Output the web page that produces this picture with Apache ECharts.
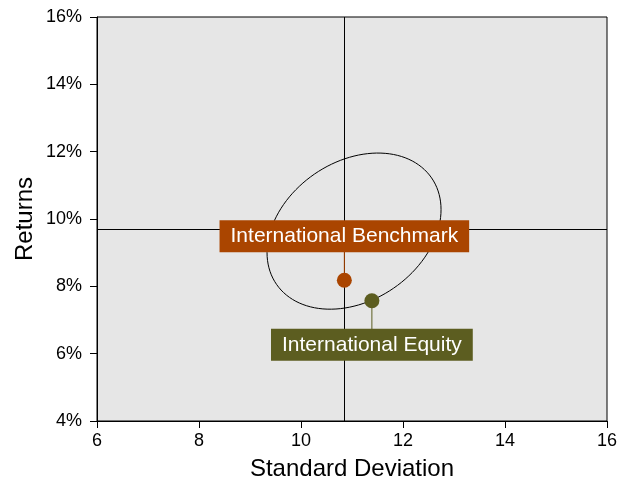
<!DOCTYPE html>
<html>
<head>
<meta charset="utf-8">
<script src="https://cdn.jsdelivr.net/npm/echarts@6/dist/echarts.min.js"></script>
<style>
  html, body { margin: 0; padding: 0; background: #fff; }
  #main { width: 630px; height: 481px; }
</style>
</head>
<body>
<div id="main"></div>
<script>
// data
var pointNames = ['International Benchmark', 'International Equity'];
var stdDev = [10.85, 11.39];
var returns = [8.18, 7.57];
var labelSide = [-1, 1];           // label above (-1) or below (1) the point
var pointColors = ['#aa4500', '#5c5d20'];
// crosshair: [x, y]
var crossLines = [10.85, 9.70];
// ellipse: centre x, centre y, half-width x, half-height y, covariance term
var ellipse = [11.04, 9.64, 1.706, 2.319, 1.09];

var xTicks = [6, 8, 10, 12, 14, 16];
var yTicks = [4, 6, 8, 10, 12, 14, 16];

var chart = echarts.init(document.getElementById('main'));
var font = 'Liberation Sans, Arial, sans-serif';

var pointData = pointNames.map(function (n, i) {
  return [stdDev[i], returns[i], i];
});

chart.setOption({
  backgroundColor: '#fff',
  animation: false,
  grid: {
    left: 97, right: 23, top: 17, bottom: 60,
    outerBoundsMode: 'none',
    show: true, backgroundColor: '#e6e6e6', borderColor: '#000', borderWidth: 1
  },
  xAxis: {
    type: 'value', min: xTicks[0], max: xTicks[xTicks.length - 1], interval: 2,
    name: 'Standard Deviation', nameLocation: 'middle', nameGap: 36, nameMoveOverlap: false,
    nameTextStyle: { fontFamily: font, fontSize: 24, color: '#000' },
    axisLine: { lineStyle: { color: '#000', width: 1 } },
    axisTick: { show: true, length: 7, lineStyle: { color: '#000' } },
    axisLabel: { fontFamily: font, fontSize: 18, color: '#000', margin: 11 },
    splitLine: { show: false }
  },
  yAxis: {
    type: 'value', min: yTicks[0], max: yTicks[yTicks.length - 1], interval: 2,
    name: 'Returns', nameLocation: 'middle', nameGap: 60, nameMoveOverlap: false,
    nameTextStyle: { fontFamily: font, fontSize: 24, color: '#000' },
    axisLine: { show: true, lineStyle: { color: '#000', width: 1 } },
    axisTick: { show: true, length: 7, lineStyle: { color: '#000' } },
    axisLabel: { fontFamily: font, fontSize: 18, color: '#000', margin: 15, formatter: '{value}%' },
    splitLine: { show: false }
  },
  series: [
    {
      // crosshair lines
      type: 'line', data: [], silent: true,
      markLine: {
        silent: true, symbol: 'none', label: { show: false },
        lineStyle: { color: '#000', width: 1, type: 'solid' },
        data: [{ xAxis: crossLines[0] }, { yAxis: crossLines[1] }]
      }
    },
    {
      // ellipse drawn through the axes' scales
      type: 'custom', silent: true, data: [ellipse],
      renderItem: function (params, api) {
        var cx = api.value(0), cy = api.value(1), sx = api.value(2), sy = api.value(3), c = api.value(4);
        var ux = sx, uy = c / sx, vy = Math.sqrt(sy * sy - uy * uy);
        var pts = [];
        for (var k = 0; k <= 120; k++) {
          var t = k / 120 * Math.PI * 2;
          pts.push(api.coord([cx + ux * Math.cos(t), cy + uy * Math.cos(t) + vy * Math.sin(t)]));
        }
        return { type: 'polyline', shape: { points: pts }, style: { stroke: '#000', lineWidth: 1, fill: null } };
      }
    },
    {
      // points with their boxed labels and leader lines
      type: 'custom', data: pointData, z: 5,
      renderItem: function (params, api) {
        var i = api.value(2);
        var p = api.coord([api.value(0), api.value(1)]);
        var side = labelSide[i];
        var ly = p[1] + side * 44;
        var col = pointColors[i];
        return {
          type: 'group',
          children: [
            { type: 'line', shape: { x1: p[0], y1: p[1], x2: p[0], y2: ly - side * 14 },
              style: { stroke: col, lineWidth: 1 } },
            { type: 'circle', shape: { cx: p[0], cy: p[1], r: 7.5 }, style: { fill: col } },
            { type: 'text', x: p[0], y: ly,
              style: {
                text: pointNames[i], fill: '#fff', font: '21px ' + font,
                align: 'center', verticalAlign: 'middle',
                backgroundColor: col, padding: [5, 11, 5, 11], lineHeight: 22
              } }
          ]
        };
      }
    }
  ]
});
</script>
</body>
</html>
